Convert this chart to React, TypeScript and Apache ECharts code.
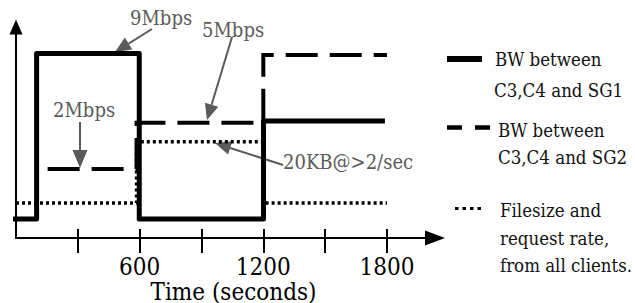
import React, { useEffect, useRef } from "react";
import * as echarts from "echarts";

// Time (s) vs. relative level (schematic units, 0..10)
const solidData: number[][] = [
  [-15, 0.9], [100, 0.9], [100, 8.74], [598, 8.74], [598, 0.9], [1201, 0.9], [1201, 5.55], [1790, 5.55],
];
const dashedData: number[][] = [
  [100, 3.27], [585, 3.27], [585, 5.46], [1200, 5.46], [1200, 8.67], [1800, 8.67],
];
const dottedData: number[][] = [
  [0, 1.66], [585, 1.66], [585, 4.56], [1200, 4.56], [1200, 1.66], [1800, 1.66],
];
const tickValues = [300, 600, 900, 1200, 1500, 1800];
const labelValues = [600, 1200, 1800];
const seriesNames = ["BW between C3,C4 and SG1", "BW between C3,C4 and SG2", "Filesize and request rate, from all clients."];

const FONT = "DejaVu Serif Condensed";
const GRAY = "#5a5a5a";

function arrow(x1: number, y1: number, x2: number, y2: number, len = 16, half = 7) {
  const dx = x2 - x1, dy = y2 - y1;
  const L = Math.hypot(dx, dy);
  const ux = dx / L, uy = dy / L;
  const bx = x2 - ux * len, by = y2 - uy * len;
  const px = -uy * half, py = ux * half;
  return [
    { type: "line", silent: true, shape: { x1, y1, x2: bx, y2: by }, style: { stroke: GRAY, lineWidth: 2 } },
    { type: "polygon", silent: true, shape: { points: [[x2, y2], [bx + px, by + py], [bx - px, by - py]] }, style: { fill: GRAY } },
  ];
}

function txt(text: string, x: number, y: number, fill: string, size = 20) {
  return {
    type: "text", silent: true, x, y,
    style: { text, fill, font: `${size}px ${FONT}`, align: "left", verticalAlign: "middle" },
  };
}

export default function App() {
  const ref = useRef<HTMLDivElement>(null);
  useEffect(() => {
    if (!ref.current) return;
    const chart = echarts.init(ref.current, undefined, { renderer: "svg" });
    const axisFont = { fontSize: 24, fontFamily: FONT, color: "#000" };
    chart.setOption({
      animation: false,
      backgroundColor: "#fff",
      grid: { left: 16, right: 200, top: 27, bottom: 65, containLabel: false, outerBoundsMode: "none" },
      xAxis: [
        {
          type: "value", min: 0, max: 2033, position: "bottom",
          axisLine: { show: true, onZero: true, symbol: ["none", "triangle"], symbolSize: [15, 20], lineStyle: { color: "#000", width: 2 } },
          axisTick: { show: true, customValues: tickValues, length: 15, inside: false, lineStyle: { color: "#000", width: 2 } },
          axisLabel: { show: true, customValues: labelValues, margin: 17, formatter: (v: number) => String(v), ...axisFont },
          splitLine: { show: false },
          name: "Time (seconds)", nameLocation: "middle", nameGap: 42, nameMoveOverlap: false,
          nameTextStyle: { ...axisFont, padding: [0, 0, 0, 16] },
        },
        {
          type: "value", min: 0, max: 2033, position: "bottom",
          axisLine: { show: false },
          axisTick: { show: true, customValues: tickValues, length: 9, inside: true, lineStyle: { color: "#000", width: 2 } },
          axisLabel: { show: false },
          splitLine: { show: false },
        },
      ],
      yAxis: {
        type: "value", min: 0, max: 10,
        axisLine: { show: true, onZero: true, symbol: ["none", "triangle"], symbolSize: [13, 15], lineStyle: { color: "#000", width: 2 } },
        axisTick: { show: false }, axisLabel: { show: false }, splitLine: { show: false },
      },
      series: [
        {
          name: seriesNames[2], type: "line", data: dottedData, symbol: "none", clip: false, xAxisIndex: 0,
          lineStyle: { color: "#000", width: 3.5, type: [3, 3], join: "miter" },
        },
        {
          name: seriesNames[1], type: "line", data: dashedData, symbol: "none", clip: false, xAxisIndex: 0,
          lineStyle: { color: "#000", width: 4, type: [32, 12], dashOffset: 32.5, join: "miter" },
        },
        {
          name: seriesNames[0], type: "line", data: solidData, symbol: "none", clip: false, xAxisIndex: 0,
          lineStyle: { color: "#000", width: 5, join: "round" },
        },
      ],
      graphic: [
        ...arrow(152, 29, 115, 52),
        ...arrow(232, 37, 207, 120),
        ...arrow(80, 122, 80, 168, 18, 7.5),
        ...arrow(283, 165, 215, 143),
        txt("9Mbps", 130, 18, GRAY),
        txt("5Mbps", 202, 30, GRAY),
        txt("2Mbps", 53, 110, GRAY),
        txt("20KB@>2/sec", 283, 162, GRAY),
        { type: "line", silent: true, shape: { x1: 447, y1: 59, x2: 482, y2: 59 }, style: { stroke: "#000", lineWidth: 6 } },
        { type: "line", silent: true, shape: { x1: 447, y1: 127.5, x2: 490, y2: 127.5 }, style: { stroke: "#000", lineWidth: 4.5, lineDash: [15, 13] } },
        { type: "line", silent: true, shape: { x1: 455, y1: 208.5, x2: 482, y2: 208.5 }, style: { stroke: "#000", lineWidth: 3, lineDash: [3.5, 4] } },
        txt("BW between", 495, 59, "#111", 18.5),
        txt("C3,C4 and SG1", 494, 90, "#111", 18.5),
        txt("BW between", 498, 130, "#111", 18.5),
        txt("C3,C4 and SG2", 498, 157, "#111", 18.5),
        txt("Filesize and", 500, 210, "#111", 18.5),
        txt("request rate,", 500, 238, "#111", 18.5),
        txt("from all clients.", 500, 265, "#111", 18.5),
      ],
    });
    return () => chart.dispose();
  }, []);
  return <div ref={ref} style={{ position: "fixed", left: 0, top: 0, width: 635, height: 303 }} />;
}
